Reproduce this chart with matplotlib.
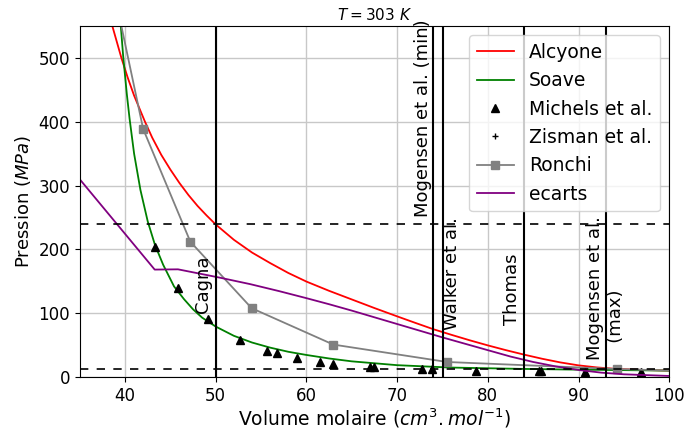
import matplotlib
matplotlib.use("Agg")
import matplotlib.pyplot as plt

# ---- data ----
v_alcyone = [38.6, 39.6, 40.3, 41.0, 42.2, 43.0, 44.0, 45.0, 46.0, 47.0, 48.0, 49.0, 50.0,
             52.0, 54.0, 56.0, 58.0, 60.0, 62.5, 65.0, 67.5, 70.0, 72.0, 74.0, 76.0, 78.0,
             80.0, 82.0, 84.0, 86.0, 88.0, 90.0, 92.0, 94.0, 97.0, 100.0]
p_alcyone = [550, 500, 469, 441, 400, 375, 348, 325, 304, 285, 268, 253, 239,
             215, 195, 178.5, 163, 149.5, 135, 121.5, 108, 95, 84.8, 74.8, 66, 57.5,
             49.5, 42, 35, 28.5, 22.8, 18.2, 15, 12.8, 11, 10]

v_soave = [39.5, 39.8, 40.2, 40.5, 41.0, 41.7, 42.5, 43.3, 44.2, 45.4, 46.5, 47.5, 48.5, 50.0,
           52.0, 54.0, 56.0, 58.0, 60.0, 62.5, 65.0, 70.0, 75.8, 84.0, 90.0, 100.0]
p_soave = [556, 502, 443, 405, 350, 293, 244, 207, 176, 142, 122, 106, 93, 79,
           64.5, 54, 46, 39.5, 34.5, 29, 24.5, 18.5, 14.8, 12.6, 11.5, 10]

v_michels = [43.27, 45.84, 49.1, 52.67, 55.62, 56.79, 58.93, 61.45, 62.89, 67.04, 67.45,
             72.7, 73.8, 78.7, 85.6, 85.85, 90.7, 96.9]
p_michels = [203.5, 139.6, 90.5, 58, 41.3, 37.2, 30, 23.3, 20.7, 16, 16,
             12.2, 12.2, 9.5, 9.4, 9.4, 8.0, 7.5]

v_zisman = []
p_zisman = []

v_ronchi = [38.0, 42.0, 47.2, 53.96, 62.96, 75.5, 94.2, 105.0]
p_ronchi = [657, 388.6, 212, 107.8, 50.8, 23.5, 12.5, 7.9]

v_ecarts = [35.0, 43.27, 45.84, 49.1, 50.5, 53.8, 57.0, 60.0, 62.5, 65.0, 67.5, 70.0, 72.5,
            75.0, 77.5, 80.0, 82.5, 85.0, 87.5, 90.0, 92.5, 95.0, 100.0]
p_ecarts = [310, 168.3, 168.7, 159.5, 155.5, 145.5, 134.5, 123.5, 114, 104, 93.5, 83, 72.5,
            62, 52, 42, 32, 23.5, 16.5, 11, 6.8, 4.2, 1.6]

ref_v = [50, 74, 75, 84, 93]
ref_names = ["Cagna", "Mogensen et al. (min)", "Walker et al.", "Thomas", "Mogensen et al.\n   (max)"]
ref_p_dash = [239, 12.5]

fig = plt.figure(figsize=(6.88, 4.30), dpi=100)
ax = fig.add_axes([0.1158, 0.1233, 0.8570, 0.8162])

ax.plot(v_alcyone, p_alcyone, color="red", lw=1.3, label="Alcyone")
ax.plot(v_soave, p_soave, color="green", lw=1.3, label="Soave")
ax.plot(v_michels, p_michels, ls="none", marker="^", color="black", ms=6, label="Michels et al.")
ax.plot(v_zisman, p_zisman, ls="none", marker="+", color="black", ms=5, label="Zisman et al.")
ax.plot(v_ronchi, p_ronchi, color="gray", lw=1.3, marker="s", ms=6, label="Ronchi")
ax.plot(v_ecarts, p_ecarts, color="purple", lw=1.3, label="ecarts")

for v in ref_v:
    ax.axvline(v, color="black", lw=1.5)
for p in ref_p_dash:
    ax.axhline(p, color="black", lw=1.2, ls=(0, (5, 5)))

fs_t = 13
ax.text(49.6, 100, ref_names[0], rotation=90, ha="right", va="bottom", fontsize=fs_t)
ax.text(73.8, 250, ref_names[1], rotation=90, ha="right", va="bottom", fontsize=fs_t)
ax.text(75.1, 74, ref_names[2], rotation=90, ha="left", va="bottom", fontsize=fs_t)
ax.text(83.7, 81.6, ref_names[3], rotation=90, ha="right", va="bottom", fontsize=fs_t)
ax.text(93.0, 27, ref_names[4], rotation=90, ha="center", va="bottom", multialignment="left", fontsize=fs_t)

ax.set_xlim(35, 100)
ax.set_ylim(0, 550)
ax.set_xticks([40, 50, 60, 70, 80, 90, 100])
ax.set_yticks([0, 100, 200, 300, 400, 500])
ax.tick_params(labelsize=12)
ax.grid(True, color="#c8c8c8", lw=1.0)
ax.set_axisbelow(True)

ax.set_xlabel(r"Volume molaire ($cm^3.mol^{-1}$)", fontsize=13.5, labelpad=1)
ax.set_ylabel(r"Pression ($MPa$)", fontsize=13)
ax.set_title(r"$T = 303\ K$", fontsize=11, pad=4)

ax.legend(loc="upper right", fontsize=13.5)

fig.savefig("out.png", dpi=100)
